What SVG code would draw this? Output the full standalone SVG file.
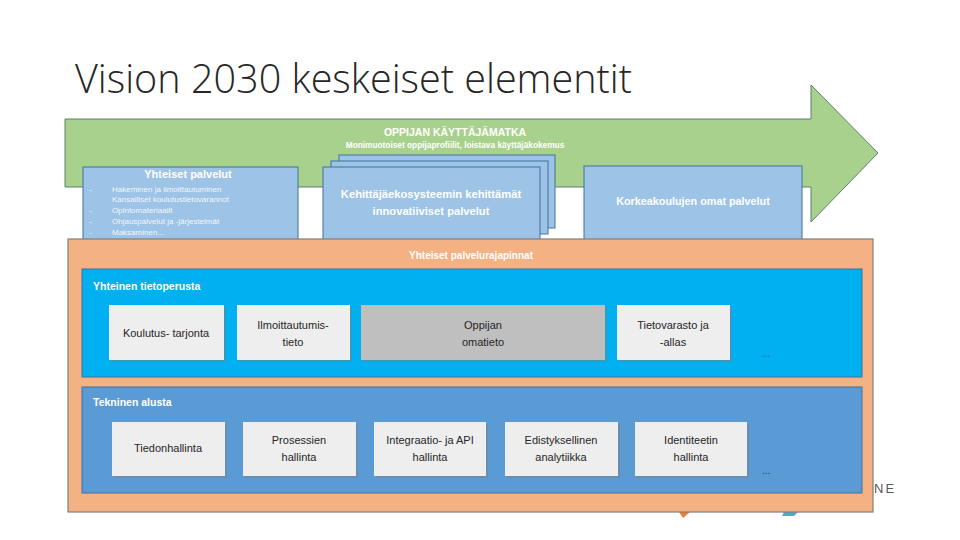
<svg xmlns="http://www.w3.org/2000/svg" width="960" height="540" viewBox="0 0 960 540">
<defs>
<style>
.t{font-family:"Liberation Sans",Arial,sans-serif}
.wb{font-family:"Liberation Sans",Arial,sans-serif;font-weight:bold;fill:#ffffff}
.w{font-family:"Liberation Sans",Arial,sans-serif;fill:#ffffff}
.dk{font-family:"Liberation Sans",Arial,sans-serif;fill:#262626;font-size:11px}
.pb{fill:#9dc3e6;stroke:#41719c;stroke-width:1}
.card{fill:#eeeeee}
.shadow{fill:#7f7f7f;opacity:0.45}
</style>
</defs>
<rect width="960" height="540" fill="#ffffff"/>
<text x="75" y="93" class="t" font-size="40" font-weight="300" fill="#262626" textLength="557" lengthAdjust="spacingAndGlyphs" style="font-family:'Open Sans','Liberation Sans',sans-serif">Vision 2030 keskeiset elementit</text>

<g id="logo">
<polygon points="679,512 690,512 683,518" fill="#ed7d31"/>
<polygon points="784,512 798,512 794,516 782,516" fill="#4bacc6"/>
<text x="874" y="493" class="t" font-size="13" fill="#595959" letter-spacing="2">NE</text>
</g>

<g id="oppijan-kayttajamatka">
<polygon points="65,119 811,119 811,85 878,153 811,222 811,187 65,187" fill="#a9d18e" stroke="#5f7f6f" stroke-width="1"/>
<text x="455" y="136" class="wb" font-size="10.5" text-anchor="middle">OPPIJAN KÄYTTÄJÄMATKA</text>
<text x="455" y="148" class="wb" font-size="8.3" text-anchor="middle">Monimuotoiset oppijaprofiilit, loistava käyttäjäkokemus</text>
</g>

<g id="yhteiset-palvelut">
<rect x="83" y="167" width="215" height="80" class="pb"/>
<text x="188" y="178" class="wb" font-size="11" text-anchor="middle">Yhteiset palvelut</text>
<g class="w" font-size="8" fill-opacity="0.9">
<text x="89" y="192">-</text><text x="112" y="192">Hakeminen ja ilmoittautuminen</text>
<text x="112" y="202">Kansalliset koulutustietovarannot</text>
<text x="89" y="213">-</text><text x="112" y="213">Opintomateriaalit</text>
<text x="89" y="224">-</text><text x="112" y="224">Ohjauspalvelut ja -järjestelmät</text>
<text x="89" y="235">-</text><text x="112" y="235">Maksaminen...</text>
</g>
</g>

<g id="kehittajaekosysteemi">
<rect x="339" y="155" width="216" height="73" class="pb"/>
<rect x="331" y="161" width="217" height="73" class="pb"/>
<rect x="323" y="167" width="217" height="80" class="pb"/>
<text x="431" y="198" class="wb" font-size="11.2" text-anchor="middle">Kehittäjäekosysteemin kehittämät</text>
<text x="431" y="215" class="wb" font-size="11.2" text-anchor="middle">innovatiiviset palvelut</text>
</g>

<g id="korkeakoulujen-palvelut">
<rect x="584" y="166" width="218" height="80" class="pb"/>
<text x="693" y="205" class="wb" font-size="10.8" text-anchor="middle">Korkeakoulujen omat palvelut</text>
</g>

<g id="palvelurajapinnat">
<rect x="68" y="239" width="805" height="273" fill="#f4b183" stroke="#7f7f7f" stroke-width="1.2"/>
<text x="471" y="259" class="wb" font-size="10" text-anchor="middle">Yhteiset palvelurajapinnat</text>
</g>

<g id="yhteinen-tietoperusta">
<rect x="82" y="269" width="780" height="108" fill="#00b0f0" stroke="#41719c" stroke-width="1"/>
<text x="93" y="290" class="wb" font-size="10.5">Yhteinen tietoperusta</text>
<text x="762" y="357" class="t" font-size="10" fill="#2e5e8e">...</text>
</g>

<g id="koulutustarjonta">
<rect x="111" y="307" width="115" height="55" class="shadow"/>
<rect x="109" y="305" width="115" height="55" class="card"/>
<text x="166" y="337" class="dk" text-anchor="middle">Koulutus- tarjonta</text>
</g>
<g id="ilmoittautumistieto">
<rect x="239" y="307" width="113" height="55" class="shadow"/>
<rect x="237" y="305" width="113" height="55" class="card"/>
<text x="293" y="329" class="dk" text-anchor="middle">Ilmoittautumis-</text>
<text x="293" y="346" class="dk" text-anchor="middle">tieto</text>
</g>
<g id="oppijan-omatieto">
<rect x="363" y="307" width="244" height="55" class="shadow"/>
<rect x="361" y="305" width="244" height="55" fill="#bfbfbf"/>
<text x="483" y="329" class="dk" text-anchor="middle">Oppijan</text>
<text x="483" y="346" class="dk" text-anchor="middle">omatieto</text>
</g>
<g id="tietovarasto">
<rect x="619" y="307" width="113" height="55" class="shadow"/>
<rect x="617" y="305" width="113" height="55" class="card"/>
<text x="673" y="329" class="dk" text-anchor="middle">Tietovarasto ja</text>
<text x="673" y="346" class="dk" text-anchor="middle">-allas</text>
</g>

<g id="tekninen-alusta">
<rect x="82" y="387" width="780" height="106" fill="#5b9bd5" stroke="#41719c" stroke-width="1"/>
<text x="93" y="406" class="wb" font-size="10.5">Tekninen alusta</text>
<text x="762" y="474" class="t" font-size="10" fill="#1f3864">...</text>
</g>

<g id="tiedonhallinta">
<rect x="114" y="424" width="113" height="54" class="shadow"/>
<rect x="112" y="422" width="113" height="54" class="card"/>
<text x="168" y="452" class="dk" text-anchor="middle">Tiedonhallinta</text>
</g>
<g id="prosessien-hallinta">
<rect x="245" y="424" width="113" height="54" class="shadow"/>
<rect x="243" y="422" width="113" height="54" class="card"/>
<text x="299" y="444" class="dk" text-anchor="middle">Prosessien</text>
<text x="299" y="461" class="dk" text-anchor="middle">hallinta</text>
</g>
<g id="integraatio-api-hallinta">
<rect x="376" y="424" width="112" height="54" class="shadow"/>
<rect x="374" y="422" width="112" height="54" class="card"/>
<text x="430" y="444" class="dk" text-anchor="middle">Integraatio- ja API</text>
<text x="430" y="461" class="dk" text-anchor="middle">hallinta</text>
</g>
<g id="edistyksellinen-analytiikka">
<rect x="507" y="424" width="113" height="54" class="shadow"/>
<rect x="505" y="422" width="113" height="54" class="card"/>
<text x="561" y="444" class="dk" text-anchor="middle">Edistyksellinen</text>
<text x="561" y="461" class="dk" text-anchor="middle">analytiikka</text>
</g>
<g id="identiteetin-hallinta">
<rect x="637" y="424" width="112" height="54" class="shadow"/>
<rect x="635" y="422" width="112" height="54" class="card"/>
<text x="691" y="444" class="dk" text-anchor="middle">Identiteetin</text>
<text x="691" y="461" class="dk" text-anchor="middle">hallinta</text>
</g>

<g id="connectors"></g>
</svg>
